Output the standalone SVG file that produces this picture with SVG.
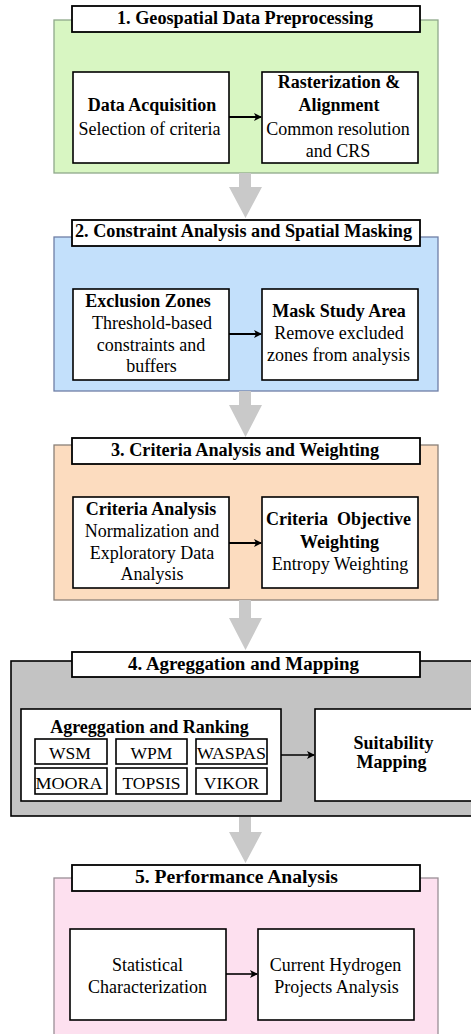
<svg xmlns="http://www.w3.org/2000/svg" width="471" height="1034" viewBox="0 0 471 1034" font-family="Liberation Serif, Times New Roman, serif">
<style>
text{fill:#000;text-anchor:middle}
.t{font-size:18px;font-weight:bold}
.b{font-size:18px;font-weight:bold}
.r{font-size:18px}
.s{font-size:17.5px}
.box{fill:#fff;stroke:#000;stroke-width:1.6}
.tb{fill:#fff;stroke:#000;stroke-width:1.8}
.con{stroke:#000;stroke-width:2;fill:none}
.big{fill:#c9c9c9}
</style>
<defs>
<marker id="ah" markerWidth="8" markerHeight="8" refX="7" refY="4" orient="auto" markerUnits="userSpaceOnUse"><path d="M0,0 L8,4 L0,8 L2,4 Z" fill="#000"/></marker>
</defs>
<g id="stage1">
<rect x="54" y="20" width="384" height="153" fill="#d8f6c2" stroke="#8fa88a" stroke-width="1.3"/>
<rect class="tb" x="72" y="6" width="348" height="26"/>
<text class="t" x="245" y="24" textLength="256" lengthAdjust="spacingAndGlyphs">1. Geospatial Data Preprocessing</text>
</g>
<g id="dataAcq">
<rect class="box" x="73" y="72" width="156" height="91"/>
<text class="b" x="152" y="111">Data Acquisition</text>
<text class="r" x="149.5" y="135">Selection of criteria</text>
</g>
<g id="raster">
<rect class="box" x="262" y="72" width="156" height="91"/>
<text class="b" x="339" y="88">Rasterization &amp;</text>
<text class="b" x="339" y="111">Alignment</text>
<text class="r" x="338" y="135">Common resolution</text>
<text class="r" x="338" y="157">and CRS</text>
</g>
<g id="stage2">
<rect x="54" y="237" width="384" height="154" fill="#c3e0fb" stroke="#6f7fa6" stroke-width="1.3"/>
<rect class="tb" x="72" y="220" width="348" height="26"/>
<text class="t" x="243.5" y="237" textLength="337" lengthAdjust="spacingAndGlyphs">2. Constraint Analysis and Spatial Masking</text>
</g>
<g id="exclusion">
<rect class="box" x="73" y="289" width="156" height="91"/>
<text class="b" x="148" y="307">Exclusion Zones</text>
<text class="r" x="152" y="329">Threshold-based</text>
<text class="r" x="151" y="351">constraints and</text>
<text class="r" x="151.5" y="372">buffers</text>
</g>
<g id="mask">
<rect class="box" x="262" y="289" width="156" height="91"/>
<text class="b" x="339" y="317">Mask Study Area</text>
<text class="r" x="339" y="339">Remove excluded</text>
<text class="r" x="338.5" y="361">zones from analysis</text>
</g>
<g id="stage3">
<rect x="54" y="445" width="384" height="155" fill="#fcdcbf" stroke="#8a8078" stroke-width="1.3"/>
<rect class="tb" x="72" y="438" width="348" height="26"/>
<text class="t" x="245" y="456" textLength="268" lengthAdjust="spacingAndGlyphs">3. Criteria Analysis and Weighting</text>
</g>
<g id="critAnalysis">
<rect class="box" x="73" y="497" width="156" height="91"/>
<text class="b" x="151" y="515">Criteria Analysis</text>
<text class="r" x="152" y="537">Normalization and</text>
<text class="r" x="152" y="559">Exploratory Data</text>
<text class="r" x="152" y="580">Analysis</text>
</g>
<g id="critWeight">
<rect class="box" x="262" y="497" width="156" height="91"/>
<text class="b" x="338.5" y="525" xml:space="preserve">Criteria  Objective</text>
<text class="b" x="339.5" y="548">Weighting</text>
<text class="r" x="340" y="570">Entropy Weighting</text>
</g>
<g id="stage4">
<rect x="11" y="661" width="470" height="155" fill="#c3c3c3" stroke="#000" stroke-width="1.6"/>
<rect class="tb" x="72" y="652" width="348" height="25"/>
<text class="t" x="243.5" y="670" textLength="231" lengthAdjust="spacingAndGlyphs">4. Agreggation and Mapping</text>
</g>
<g id="aggRank">
<rect class="box" x="21" y="709" width="260" height="92"/>
<text class="b" x="149.5" y="733">Agreggation and Ranking</text>
<rect class="box" x="35" y="739" width="72" height="25"/>
<text class="s" x="70" y="759">WSM</text>
<rect class="box" x="116" y="739" width="71" height="25"/>
<text class="s" x="151.5" y="759">WPM</text>
<rect class="box" x="196" y="739" width="71" height="25"/>
<text class="s" x="231.5" y="759" textLength="69" lengthAdjust="spacingAndGlyphs">WASPAS</text>
<rect class="box" x="35" y="768" width="72" height="26"/>
<text class="s" x="69" y="789" textLength="67" lengthAdjust="spacingAndGlyphs">MOORA</text>
<rect class="box" x="116" y="768" width="71" height="26"/>
<text class="s" x="151.5" y="789">TOPSIS</text>
<rect class="box" x="196" y="768" width="71" height="26"/>
<text class="s" x="231.5" y="789">VIKOR</text>
</g>
<g id="suitability">
<rect class="box" x="315" y="709" width="170" height="92"/>
<text class="b" x="393.5" y="749">Suitability</text>
<text class="b" x="391.5" y="768">Mapping</text>
</g>
<g id="stage5">
<rect x="54" y="878" width="384" height="160" fill="#fde0ef" stroke="#9a8f96" stroke-width="1.3"/>
<rect class="tb" x="72" y="865" width="348" height="26"/>
<text class="t" x="236.5" y="883" textLength="203" lengthAdjust="spacingAndGlyphs">5. Performance Analysis</text>
</g>
<g id="statChar">
<rect class="box" x="70" y="929" width="156" height="91"/>
<text class="r" x="147.5" y="971">Statistical</text>
<text class="r" x="147.5" y="993">Characterization</text>
</g>
<g id="h2proj">
<rect class="box" x="258" y="929" width="156" height="91"/>
<text class="r" x="335.5" y="971">Current Hydrogen</text>
<text class="r" x="336.5" y="993">Projects Analysis</text>
</g>
<g id="connectors">
<path class="big" d="M239,173 H251 V187 H262 L245.5,218 L229,187 H239 Z"/>
<path class="big" d="M239,391 H251 V405 H262 L245.5,437 L229,405 H239 Z"/>
<path class="big" d="M239,600 H251 V618 H262 L245.5,650 L229,618 H239 Z"/>
<path class="big" d="M239,817 H251 V832 H262 L245.5,863 L229,832 H239 Z"/>
<line class="con" x1="229" y1="117" x2="261" y2="117" marker-end="url(#ah)"/>
<line class="con" x1="229" y1="334" x2="261" y2="334" marker-end="url(#ah)"/>
<line class="con" x1="229" y1="543" x2="261" y2="543" marker-end="url(#ah)"/>
<line class="con" x1="281" y1="755" x2="314" y2="755" marker-end="url(#ah)" style="stroke-width:1.6"/>
<line class="con" x1="226" y1="974" x2="257" y2="974" marker-end="url(#ah)" style="stroke-width:1.6"/>
</g>
</svg>
